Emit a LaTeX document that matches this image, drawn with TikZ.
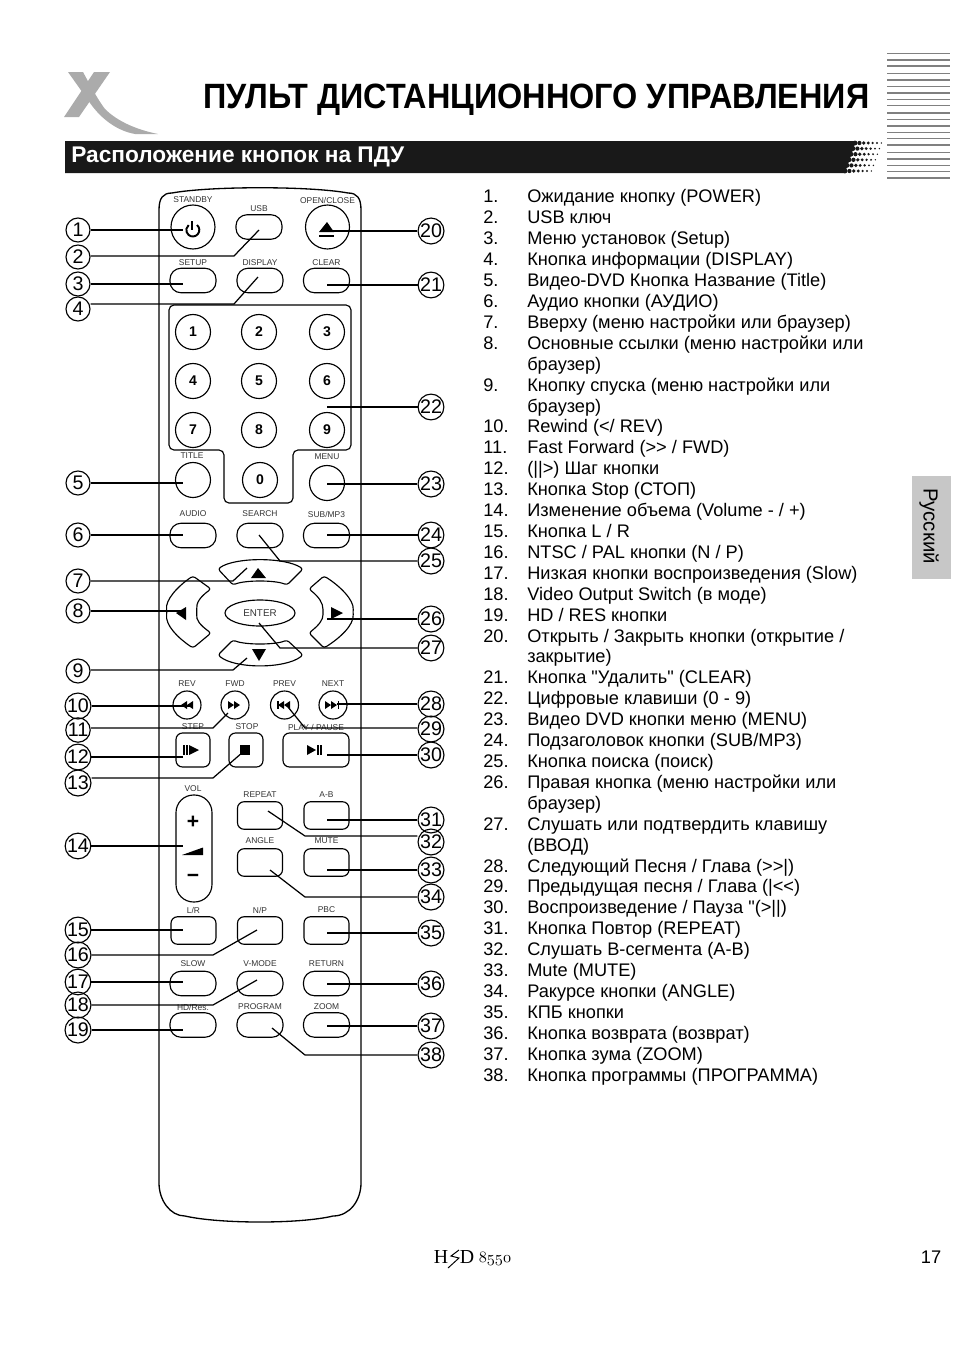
\documentclass[tikz,border=0pt]{standalone}
\usepackage{fontspec}
\usetikzlibrary{shapes.geometric}
\setmainfont{Liberation Sans}
\newfontfamily\listfont{Liberation Sans}
\newfontfamily\footfont{Liberation Serif}
\tikzset{
	callout/.style={draw,circle,inner sep=0pt,minimum size=0.48cm,line width=0.65pt,font=\fontsize{11.2}{12}\selectfont},
	leader/.style={line width=0.7pt},
	keyline/.style={line width=0.65pt},
	keyname/.style={inner sep=0pt,text=black!80,font=\fontsize{4.8}{6}\selectfont},
	pillkey/.style={draw,keyline,rounded corners=0.22cm,minimum width=0.92cm,minimum height=0.49cm,inner sep=0pt},
	boxkey/.style={draw,keyline,rounded corners=0.13cm,minimum width=0.9cm,minimum height=0.55cm,inner sep=0pt},
	bigkey/.style={draw,keyline,circle,minimum size=0.88cm,inner sep=0pt},
	numkey/.style={draw,keyline,circle,minimum size=0.7cm,inner sep=0pt,font=\bfseries\fontsize{8}{9}\selectfont},
	runkey/.style={draw,keyline,circle,minimum size=0.56cm,inner sep=0pt}
}
\def\ltri#1#2{\fill (#1,#2-4) -- (#1-6,#2) -- (#1,#2+4) -- cycle;}
\def\rtri#1#2{\fill (#1,#2-4) -- (#1+6,#2) -- (#1,#2+4) -- cycle;}

\begin{document}
\begin{tikzpicture}[x=0.02cm,y=-0.02cm]
	%%%%% PAGE %%%%%
	\def\xleft{78}
	\def\xright{431}
	\useasboundingbox (0,0) rectangle (954,1352);

	% logo
	\fill[black!33] (68,72) -- (83,72) .. controls (90,85) and (98,100) .. (105,109) .. controls (118,122) and (138,130) .. (158,134) -- (135,134) .. controls (118,131) and (102,120) .. (90,103) -- cycle;
	\fill[black!33] (94,72) -- (110,72) -- (79,117) -- (64,117) -- cycle;

	\node[anchor=west,inner sep=0pt,font=\bfseries\fontsize{20}{24}\selectfont] (title) at (203,99.5) {\scalebox{0.922}[1]{ПУЛЬТ ДИСТАНЦИОННОГО УПРАВЛЕНИЯ}};

	% black bar and its dots
	\fill[black!90] (65,141) -- (856,141) -- (845,173) -- (65,173) -- cycle;
	\node[anchor=west,inner sep=0pt,text=white,font=\bfseries\fontsize{12.9}{15}\selectfont] (section) at (71,157) {Расположение кнопок на ПДУ};
	\foreach \row in {0,...,5}{
		\foreach \col in {0,...,6}{
			\fill[black!90] ({855+\col*4.4-\row*2},{143+\row*5.6}) circle ({2.4-0.27*\col});
		}
	}

	% stripes at the right
	\foreach \k/\w in {0/1,1/2,2/2,3/1,4/2,5/1,6/2,7/1,8/1,9/2,10/1,11/2,12/1,13/1,14/2,15/1,16/2,17/1,18/1,19/2}{
		\draw[black!50,line width=\w*0.57pt] (887,{53.3+\k*6.58}) -- (950,{53.3+\k*6.58});
	}

	% tab
	\fill[black!22] (912,476) rectangle (951,579);
	\node[rotate=-90,inner sep=0pt,font=\fontsize{11.6}{13}\selectfont] (tab) at (929,526) {Русский};

	%%%%% REMOTE %%%%%
	\draw[line width=0.75pt] (159,210) .. controls (159,198) and (163,193) .. (172,193) .. controls (210,186) and (310,186) .. (348,193) .. controls (357,193) and (361,198) .. (361,210) -- (361,1183) .. controls (361,1200) and (350,1216) .. (333,1216) .. controls (300,1224) and (220,1224) .. (185,1216) .. controls (170,1216) and (159,1200) .. (159,1183) -- cycle;

	% numeric field
	\draw[keyline,rounded corners=0.1cm] (169,305) -- (351,305) -- (351,450) -- (293,450) -- (293,503) -- (224,503) -- (224,450) -- (169,450) -- cycle;

	\foreach \nm/\xx/\yy/\ly/\lab in {usb/259/227/209/USB,setup/193/280.5/263/SETUP,display/260/280.5/263/DISPLAY,clear/326.5/280.5/263/CLEAR,audio/193/535.5/514/AUDIO,search/260/535.5/514/SEARCH,sub/326.5/535.5/514/{SUB/MP3},slow/193/983.5/964/SLOW,vmode/260/983.5/964/V-MODE,return/326.5/983.5/964/RETURN,hdres/193/1025/1007/{HD/Res.},program/260/1025/1007/PROGRAM,zoom/326.5/1025/1007/ZOOM}{
		\node[pillkey] (\nm) at (\xx,\yy) {};
		\node[keyname] (\nm-name) at (\xx,\ly) {\lab};
	}
	\foreach \nm/\xx/\yy/\ly/\lab in {repeat/260/815.5/795/REPEAT,ab/326.5/815.5/795/A-B,angle/260/862.5/841/ANGLE,mute/326.5/862.5/841/MUTE,lr/193.5/930.5/910/{L/R},np/260/930.5/910/{N/P},pbc/326.5/930.5/910/PBC}{
		\node[boxkey] (\nm) at (\xx,\yy) {};
		\node[keyname] (\nm-name) at (\xx,\ly) {\lab};
	}
	\foreach \nm/\xx/\lab in {standby/193/STANDBY,openclose/327.5/{OPEN/CLOSE}}{
		\node[bigkey] (\nm) at (\xx,227) {};
		\node[keyname] (\nm-name) at (\xx,200) {\lab};
	}
	\foreach \nm/\xx/\yy in {1/193/332,2/259/332,3/327/332,4/193/381,5/259/381,6/327/381,7/193/430,8/259/430,9/327/430,0/260/480}{
		\node[numkey] (num\nm) at (\xx,\yy) {\nm};
	}
	\node[numkey] (title-key) at (193,480) {};
	\node[numkey] (menu) at (327,483) {};
	\node[keyname] (title-name) at (192,456) {TITLE};
	\node[keyname] (menu-name) at (327,457) {MENU};

	% icons
	\draw[line width=1.1pt] (197,225) arc (-50:230:6.5);
	\draw[line width=1.1pt] (192,221) -- (192,230);
	\fill (319,232) -- (327,222) -- (334,232) -- cycle;
	\fill (319,234.5) rectangle (334,236.5);

	% cross
	\draw[keyline,rounded corners=1.5pt] (218,569) .. controls (235,557) and (285,557) .. (303,569) -- (287,585) .. controls (275,580) and (245,580) .. (233,585) -- cycle;
	\draw[keyline,rounded corners=1.5pt] (218,655) .. controls (235,669) and (285,669) .. (303,655) -- (287,640) .. controls (275,645) and (245,645) .. (233,640) -- cycle;
	\draw[keyline,rounded corners=1.5pt] (193,576) .. controls (178,586) and (165,600) .. (167,612) .. controls (165,625) and (178,638) .. (193,648) -- (211,633) .. controls (200,625) and (196,620) .. (197,612) .. controls (196,603) and (200,597) .. (211,589) -- cycle;
	\draw[keyline,rounded corners=1.5pt] (324,576) .. controls (340,586) and (354,600) .. (353,612) .. controls (354,625) and (340,638) .. (324,648) -- (309,633) .. controls (319,625) and (323,620) .. (323,612) .. controls (323,603) and (319,597) .. (309,589) -- cycle;
	\fill (251,578) -- (258,568) -- (266,578) -- cycle;
	\fill (252,649) -- (259,661) -- (266,649) -- cycle;
	\fill (176,613) -- (186,607) -- (186,620) -- cycle;
	\fill (331,607) -- (343,613) -- (331,619) -- cycle;
	\node[draw,keyline,ellipse,minimum width=1.4cm,minimum height=0.52cm,inner sep=0pt,text=black!80,font=\fontsize{5.6}{7}\selectfont] (enter) at (260,613) {ENTER};

	% transport keys
	\foreach \nm/\xx/\lab in {rev/187/REV,fwd/235/FWD,prev/284.5/PREV,next/333/NEXT}{
		\node[runkey] (\nm) at (\xx,705) {};
		\node[keyname] (\nm-name) at (\xx,684) {\lab};
	}
	\ltri{187}{705} \ltri{193}{705}
	\rtri{228}{705} \rtri{234}{705}
	\ltri{284}{705} \ltri{290}{705}
	\fill (277,701) rectangle (278.5,709);
	\rtri{325}{705} \rtri{331}{705}
	\fill (337.5,701) rectangle (339,709);

	\node[draw,keyline,rounded corners=0.13cm,minimum width=0.68cm,minimum height=0.68cm,inner sep=0pt] (stepkey) at (193,750) {};
	\node[draw,keyline,rounded corners=0.13cm,minimum width=0.68cm,minimum height=0.68cm,inner sep=0pt] (stop) at (246,750) {};
	\node[draw,keyline,rounded corners=0.13cm,minimum width=1.32cm,minimum height=0.68cm,inner sep=0pt] (play) at (316,750) {};
	\node[keyname] (stepkey-name) at (193,727) {STEP};
	\node[keyname] (stop-name) at (247,727) {STOP};
	\node[keyname] (play-name) at (316,727) {PLAY / PAUSE};
	\fill (183,745) rectangle (184.5,755);
	\fill (186,745) rectangle (187.5,755);
	\fill (189,745) -- (199,750) -- (189,755) -- cycle;
	\fill (240,745) rectangle (250,755);
	\fill (307,745) -- (316,750) -- (307,755) -- cycle;
	\fill (317,745) rectangle (318.5,755);
	\fill (320,745) rectangle (321.5,755);

	% volume
	\node[draw,keyline,rounded corners=0.35cm,minimum width=0.72cm,minimum height=2.14cm,inner sep=0pt] (vol) at (194,848.5) {};
	\node[keyname] (vol-name) at (193,789) {VOL};
	\node[inner sep=0pt,font=\bfseries\fontsize{12}{14}\selectfont] (volplus) at (193,822) {+};
	\node[inner sep=0pt,font=\bfseries\fontsize{12}{14}\selectfont] (volminus) at (193,878) {−};
	\fill (182,855) -- (203,847.5) -- (203,855) -- cycle;

	%%%%% CALLOUTS %%%%%
	\foreach \n/\yy/\tx in {1/230/183,3/284/183,5/483/183,6/535/183,8/611/185,10/706/193,12/757/183,14/846/183,15/930/183,17/982/183,19/1030/183}{
		\node[callout] (c\n) at (\xleft,\yy) {\n};
		\coordinate (t\n) at (\tx,\yy);
		\draw[leader] (c\n.east) -- (t\n);
	}
	\foreach \n/\yy/\by/\bx/\tx/\ty in {2/257/256/234/259/230,4/309/304/234/258/277,7/581/581/233/247/568,9/671/670/233/247/658,11/730/728/213/228/713,13/783/778/213/243/752,16/955/955/213/257/930,18/1005/1005/213/257/980}{
		\node[callout] (c\n) at (\xleft,\yy) {\n};
		\coordinate (b\n) at (\bx,\by);
		\coordinate (t\n) at (\tx,\ty);
		\draw[leader] (c\n.east|-b\n) -- (b\n) -- (t\n);
	}
	\foreach \n/\yy/\tx in {20/231/327,21/285/327,22/407/327,23/484/327,24/535/327,26/619/327,28/704/337,30/755/327,31/820/327,33/870/327,35/933/327,36/984/327,37/1026/327}{
		\node[callout] (c\n) at (\xright,\yy) {\n};
		\coordinate (t\n) at (\tx,\yy);
		\draw[leader] (c\n.west) -- (t\n);
	}
	\foreach \n/\yy/\by/\bx/\tx/\ty in {25/561/561/280/259/535,27/648/648/280/259/623,29/729/728/305/288/707,32/842/836/305/268/811,34/897/897/305/270/870,38/1055/1055/305/272/1028}{
		\node[callout] (c\n) at (\xright,\yy) {\n};
		\coordinate (b\n) at (\bx,\by);
		\coordinate (t\n) at (\tx,\ty);
		\draw[leader] (c\n.west|-b\n) -- (b\n) -- (t\n);
	}

	%%%%% LIST %%%%%
	\node[anchor=north west,inner sep=0pt,font=\listfont\fontsize{10.36}{11.9}\selectfont] (itemlist) at (483,188) {%
		\setlength{\tabcolsep}{0pt}%
		\begin{tabular}{@{}p{25pt}@{}l@{}}
			1. & Ожидание кнопку (POWER)\\
			2. & USB ключ\\
			3. & Меню установок (Setup)\\
			4. & Кнопка информации (DISPLAY)\\
			5. & Видео-DVD Кнопка Название (Title)\\
			6. & Аудио кнопки (АУДИО)\\
			7. & Вверху (меню настройки или браузер)\\
			8. & Основные ссылки (меню настройки или\\
			   & браузер)\\
			9. & Кнопку спуска (меню настройки или\\
			   & браузер)\\
			10. & Rewind (</ REV)\\
			11. & Fast Forward (>> / FWD)\\
			12. & (||>) Шаг кнопки\\
			13. & Кнопка Stop (СТОП)\\
			14. & Изменение объема (Volume - / +)\\
			15. & Кнопка L / R\\
			16. & NTSC / PAL кнопки (N / P)\\
			17. & Низкая кнопки воспроизведения (Slow)\\
			18. & Video Output Switch (в моде)\\
			19. & HD / RES кнопки\\
			20. & Открыть / Закрыть кнопки (открытие /\\
			    & закрытие)\\
			21. & Кнопка "Удалить" (CLEAR)\\
			22. & Цифровые клавиши (0 - 9)\\
			23. & Видео DVD кнопки меню (MENU)\\
			24. & Подзаголовок кнопки (SUB/MP3)\\
			25. & Кнопка поиска (поиск)\\
			26. & Правая кнопка (меню настройки или\\
			    & браузер)\\
			27. & Слушать или подтвердить клавишу\\
			    & (ВВОД)\\
			28. & Следующий Песня / Глава (>>|)\\
			29. & Предыдущая песня / Глава (|<<)\\
			30. & Воспроизведение / Пауза "(>||)\\
			31. & Кнопка Повтор (REPEAT)\\
			32. & Слушать В-сегмента (A-B)\\
			33. & Mute (MUTE)\\
			34. & Ракурсе кнопки (ANGLE)\\
			35. & КПБ кнопки\\
			36. & Кнопка возврата (возврат)\\
			37. & Кнопка зума (ZOOM)\\
			38. & Кнопка программы (ПРОГРАММА)
		\end{tabular}};

	%%%%% FOOTER %%%%%
	\node[inner sep=0pt,font=\footfont\fontsize{11.3}{13}\selectfont] (modelh) at (441,1257) {H};
	\draw[line width=0.55pt] (459,1250) -- (451,1256) -- (459,1258) -- (448,1268);
	\node[inner sep=0pt,font=\footfont\fontsize{11.3}{13}\selectfont] (modeld) at (467,1257) {D};
	\node[inner sep=0pt,font=\fontsize{8.6}{10}\selectfont] (modelno) at (495,1259) {\usefont{OML}{cmm}{m}{it}8550};
	\node[inner sep=0pt,font=\fontsize{10.4}{12}\selectfont] (pageno) at (931,1257) {17};
\end{tikzpicture}
\end{document}
